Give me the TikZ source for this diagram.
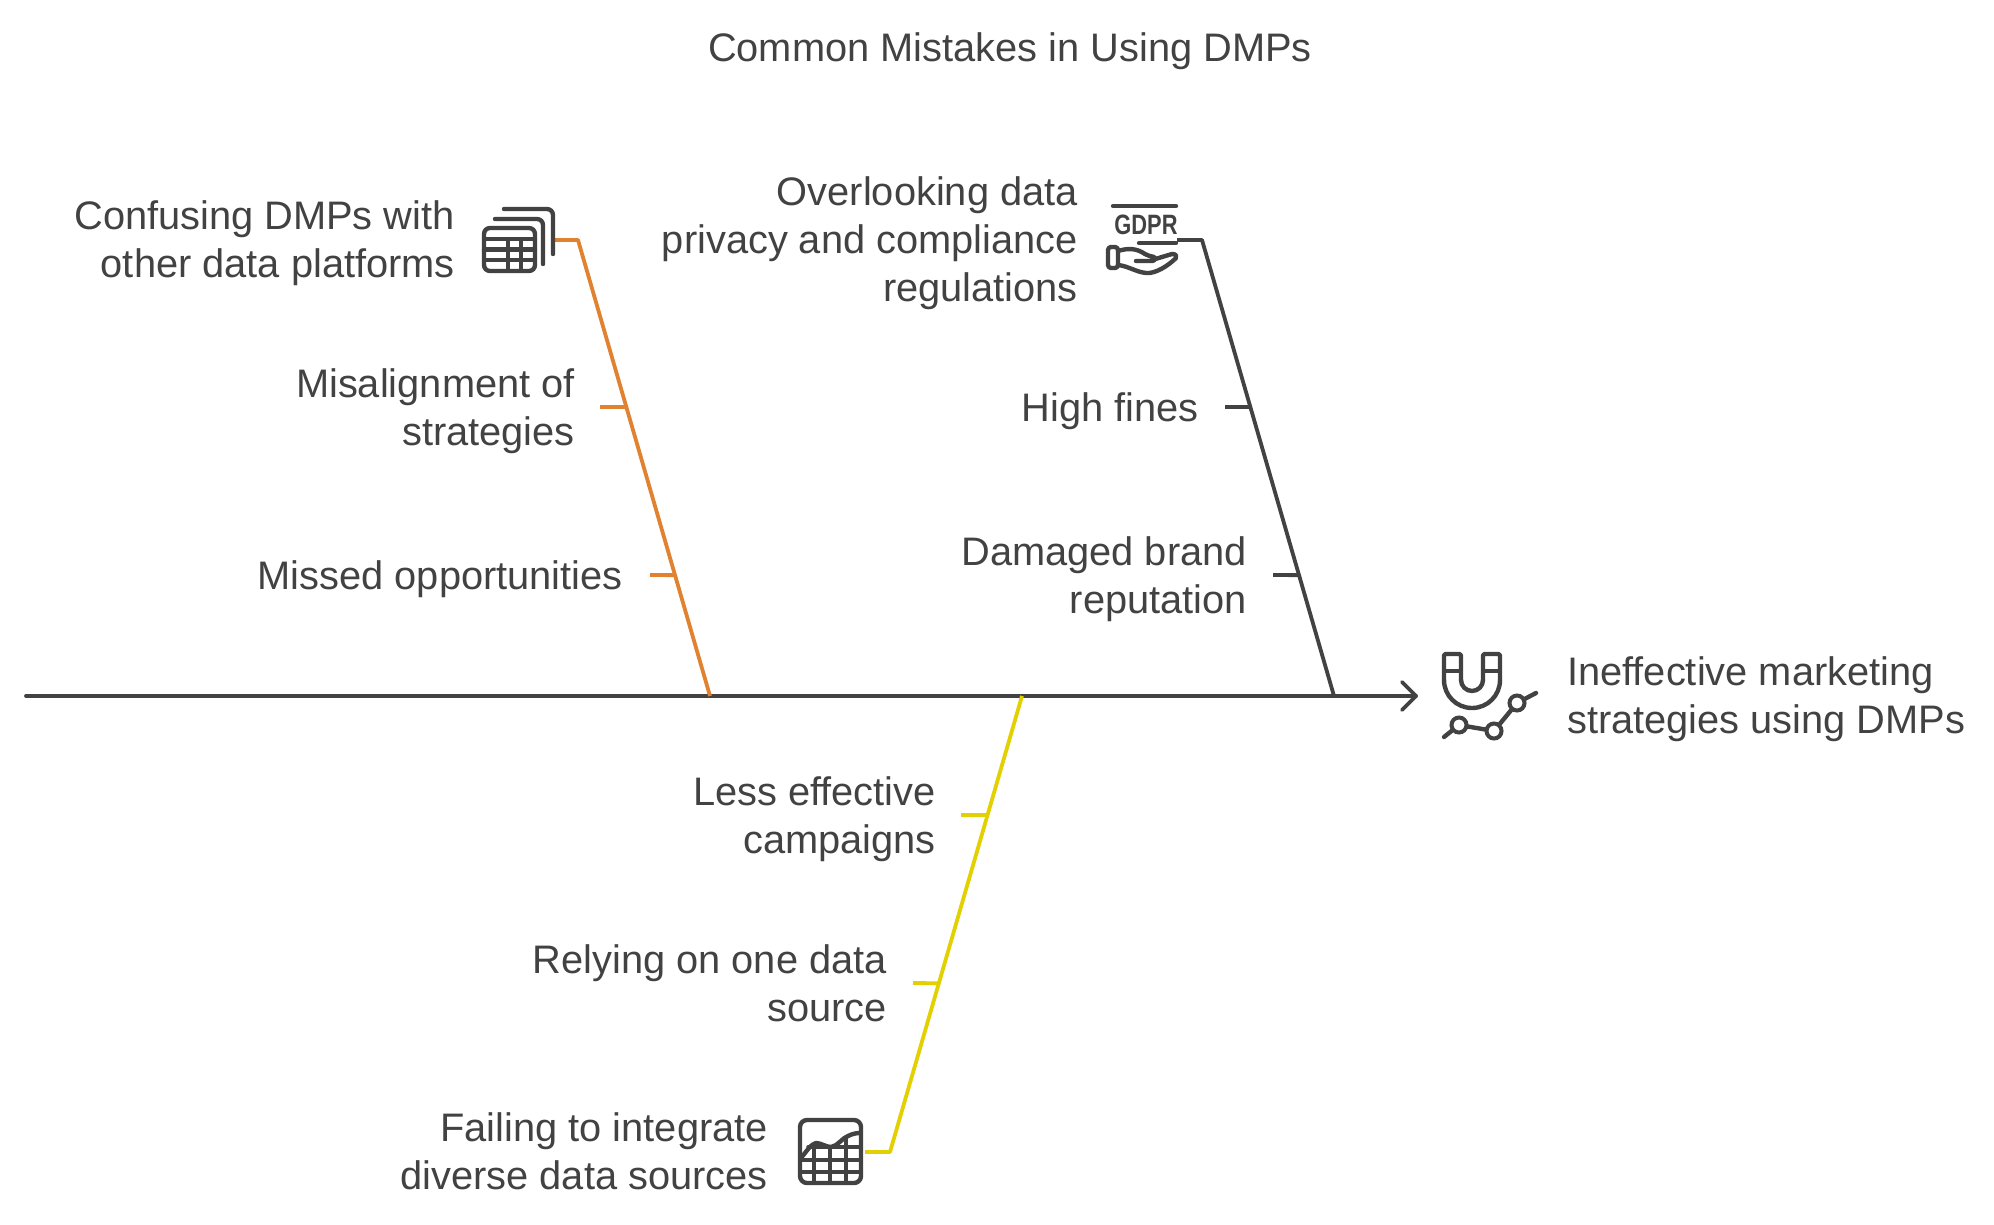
\documentclass[tikz,border=0pt]{standalone}
\usepackage{fontspec}
\setmainfont{Liberation Sans}
\usetikzlibrary{calc}
\definecolor{ink}{HTML}{424242}
\definecolor{orangeb}{HTML}{E0822F}
\definecolor{yellowb}{HTML}{E3D000}
\tikzset{
  lbl/.style={text=ink,font=\fontsize{39.8}{48}\selectfont,align=right,anchor=east,inner sep=0pt},
  lblL/.style={text=ink,font=\fontsize{39.8}{48}\selectfont,align=left,anchor=west,inner sep=0pt},
  bone/.style={line width=3.8pt,line join=round},
  spine/.style={line width=3.8pt,draw=ink,line cap=round,line join=round},
  icon/.style={draw=ink,line width=4.4pt,line cap=round,line join=round},
  iconthin/.style={draw=ink,line width=3.4pt,line cap=round,line join=round},
  dot/.style={circle,draw=ink,line width=4pt,minimum size=15pt,inner sep=0pt}
}
\begin{document}
\begin{tikzpicture}[x=1pt,y=-1pt]
\useasboundingbox (0,0) rectangle (1994,1225);
\node[text=ink,font=\fontsize{39.8}{48}\selectfont,inner sep=0pt] (title) at (1010,51) {Common Mistakes in Using DMPs};
% spine
\coordinate (s0) at (26,696);
\coordinate (s1) at (1416,696);
\draw[spine] (s0) -- (s1);
\coordinate (h1) at (1402,682);
\coordinate (h2) at (1402,710);
\draw[spine] (h1) -- (s1) -- (h2);
% orange
\coordinate (oa) at (555,240);\coordinate (ob) at (578,240);\coordinate (oc) at (710,696);
\draw[bone,draw=orangeb] (oa) -- (ob) -- (oc);
\coordinate (o1) at ($(ob)!0.366!(oc)$);\coordinate (o2) at ($(ob)!0.735!(oc)$);
\coordinate (o1s) at (600,407);\coordinate (o2s) at (650,575);
\draw[bone,draw=orangeb] (o1s) -- (o1);
\draw[bone,draw=orangeb] (o2s) -- (o2);
% charcoal
\coordinate (ca) at (1177,240);\coordinate (cb) at (1202,240);\coordinate (cc) at (1334,696);
\draw[bone,draw=ink] (ca) -- (cb) -- (cc);
\coordinate (c1) at ($(cb)!0.366!(cc)$);\coordinate (c2) at ($(cb)!0.735!(cc)$);
\coordinate (c1s) at (1225,407);\coordinate (c2s) at (1273,575);
\draw[bone,draw=ink] (c1s) -- (c1);
\draw[bone,draw=ink] (c2s) -- (c2);
% yellow
\coordinate (ya) at (865,1152);\coordinate (yb) at (890,1152);\coordinate (yc) at (1022,696);
\draw[bone,draw=yellowb] (ya) -- (yb) -- (yc);
\coordinate (y1) at ($(yc)!0.261!(yb)$);\coordinate (y2) at ($(yc)!0.63!(yb)$);
\coordinate (y1s) at (961,815);\coordinate (y2s) at (913,983);
\draw[bone,draw=yellowb] (y1s) -- (y1);
\draw[bone,draw=yellowb] (y2s) -- (y2);
% labels
\node[lbl] (n1) at (455,243) {Confusing DMPs with\\other data platforms};
\node[lbl] (n2) at (575,411) {Misalignment of\\strategies};
\node[lbl] (n3) at (623,579) {Missed opportunities};
\node[lbl] (n4) at (1078,243) {Overlooking data\\privacy and compliance\\regulations};
\node[lbl] (n5) at (1199,411) {High fines};
\node[lbl] (n6) at (1247,579) {Damaged brand\\reputation};
\node[lbl] (n7) at (936,819) {Less effective\\campaigns};
\node[lbl] (n8) at (887,983) {Relying on one data\\source};
\node[lbl] (n9) at (768,1151) {Failing to integrate\\diverse data sources};
\node[lblL] (n10) at (1567,699) {Ineffective marketing\\strategies using DMPs};
% table icon
\draw[icon,rounded corners=6pt] (484,228) rectangle (535,271);
\draw[icon] (484,239) -- (535,239);
\draw[icon] (484,249.5) -- (535,249.5);
\draw[iconthin] (484,260) -- (535,260);
\draw[iconthin] (508,239) -- (508,271);
\draw[iconthin] (521,239) -- (521,271);
\draw[icon,rounded corners=6pt] (495,219) -- (543,219) -- (543,264);
\draw[icon,rounded corners=6pt] (504,209) -- (553,209) -- (553,254);
% GDPR icon
\draw[icon] (1113,206) -- (1176,206);
\node[text=ink,font=\bfseries\fontsize{28}{28}\selectfont,inner sep=0pt,xscale=0.78,transform shape] (gdpr) at (1146,225) {GDPR};
\draw[icon] (1139,243) -- (1176,243);
\draw[icon,rounded corners=3pt] (1108,247) rectangle (1118,268);
\draw[icon] (1118,251) .. controls (1128,248) and (1136,248) .. (1145,254) .. controls (1150,257) and (1154,256) .. (1155,258) .. controls (1156,260) and (1154,261) .. (1150,261) -- (1136,261);
\draw[icon] (1152,260) -- (1172,254) .. controls (1176,254) and (1177,256) .. (1176,258) .. controls (1168,266) and (1155,274) .. (1146,273) .. controls (1136,272) and (1128,266) .. (1118,265);
% magnet icon
\draw[icon,rounded corners=1.5pt] (1444,680) -- (1444,654) -- (1461,654) -- (1461,680);
\draw[icon] (1461,680) .. controls (1461,686) and (1466,691) .. (1472,691) .. controls (1478,691) and (1483,686) .. (1483,680);
\draw[icon,rounded corners=1.5pt] (1483,680) -- (1483,654) -- (1500,654) -- (1500,680);
\draw[icon] (1500,680) .. controls (1500,695.5) and (1487.5,708) .. (1472,708) .. controls (1456.5,708) and (1444,695.5) .. (1444,680);
\draw[iconthin] (1444,671) -- (1461,671);
\draw[iconthin] (1483,671) -- (1500,671);
% trend
\node[dot] (d1) at (1459,725) {};
\node[dot] (d2) at (1494,731) {};
\node[dot] (d3) at (1517,703) {};
\coordinate (t0) at (1444,737);\coordinate (t1) at (1536,693);
\draw[icon] (t0) -- (d1) -- (d2) -- (d3) -- (t1);
% chart icon
\draw[icon,rounded corners=7pt] (800,1120) rectangle (861,1183);
\draw[iconthin] (808,1147) -- (860,1147);
\draw[iconthin] (800,1160) -- (861,1160);
\draw[iconthin] (800,1172) -- (861,1172);
\draw[iconthin] (814,1144) -- (814,1183);
\draw[iconthin] (830,1147) -- (830,1183);
\draw[iconthin] (846,1137) -- (846,1183);
\draw[icon] (801,1158) .. controls (806,1152) and (811,1144) .. (816,1143) .. controls (821,1143) and (826,1147) .. (831,1147) .. controls (838,1146) and (842,1138) .. (848,1136) .. controls (852,1134) and (856,1133) .. (860,1133);
\end{tikzpicture}
\end{document}
